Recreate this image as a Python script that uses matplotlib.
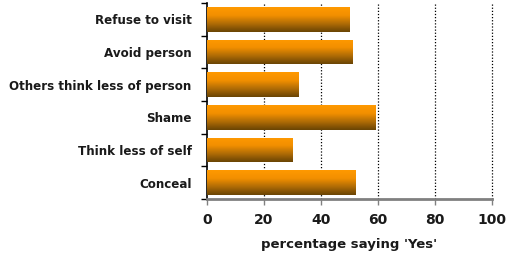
import numpy as np
import matplotlib
matplotlib.use("Agg")
import matplotlib.pyplot as plt
from matplotlib.colors import LinearSegmentedColormap

# data ----------------------------------------------------------------------#
categories = ["Refuse to visit", "Avoid person", "Others think less of person",
              "Shame", "Think less of self", "Conceal"]
values = [50, 51, 32, 59, 30, 52]
xticks = [0, 20, 40, 60, 80, 100]

plt.rcParams['font.family'] = ['DejaVu Sans']

fig = plt.figure(figsize=(5.09, 2.59), dpi=100)
ax = fig.add_axes([0.4067, 0.2317, 0.5600, 0.7563])

ypos = np.arange(len(categories))
bars = ax.barh(ypos, values, height=0.76, color='none', edgecolor='none', zorder=3)

# vertical gradient: bright orange on top, dark brown at the bottom
cmap = LinearSegmentedColormap.from_list("og", ["#ff9900", "#f28f00", "#b06c06", "#6a4404"])
grad = np.linspace(0, 1, 64).reshape(-1, 1)
for b in bars:
    x0, y0 = b.get_x(), b.get_y()
    w, h = b.get_width(), b.get_height()
    # y axis is inverted, so y0 is the top edge visually
    im = ax.imshow(grad, cmap=cmap, aspect='auto', interpolation='bicubic',
                   extent=(x0, x0 + w, y0 + h, y0), origin='upper', zorder=3)
    im.set_clip_path(b)

ax.set_xlim(0, 100)
ax.set_ylim(len(categories) - 0.5, -0.5)

# dotted grid
for xv in xticks[1:]:
    ax.axvline(xv, color='black', linestyle=(0, (1, 1.5)), linewidth=0.9,
               zorder=1, clip_on=False)

ax.set_yticks(ypos)
ax.set_yticklabels(categories, fontsize=8.6, fontweight='bold', color='#1a1a1a')
ax.tick_params(axis='y', which='major', length=0, pad=11)
ax.set_yticks(np.arange(-0.5, len(categories)), minor=True)
ax.tick_params(axis='y', which='minor', length=4, width=1, direction='out', color='black')

ax.set_xticks(xticks)
ax.set_xticklabels([str(v) for v in xticks], fontsize=10, fontweight='bold', color='#1a1a1a')
ax.tick_params(axis='x', length=4, width=1, direction='out', color='#808080', pad=6)
ax.set_xlabel("percentage saying 'Yes'", fontsize=9.5, fontweight='bold',
              color='#1a1a1a', labelpad=8)

for s in ['top', 'right']:
    ax.spines[s].set_visible(False)
ax.spines['left'].set_color('black')
ax.spines['left'].set_linewidth(1.2)
ax.spines['bottom'].set_color('#808080')
ax.spines['bottom'].set_linewidth(2)

fig.savefig("out.png", dpi=100)
